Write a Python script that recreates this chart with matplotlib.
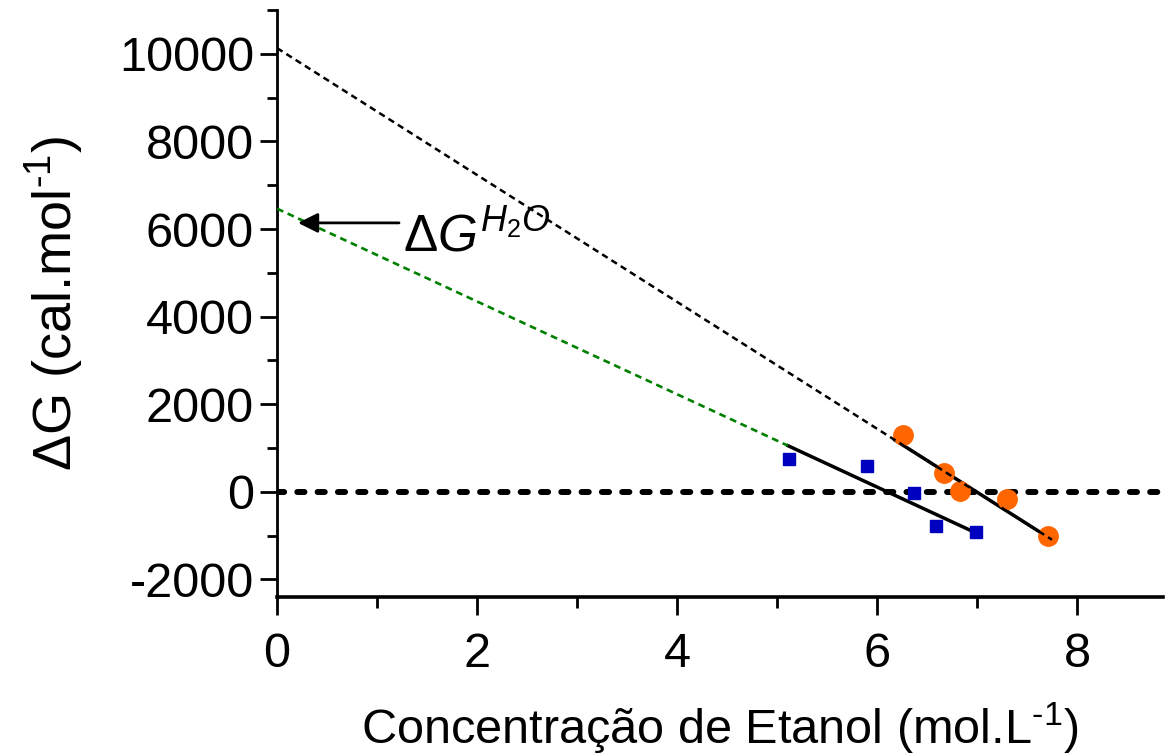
import matplotlib
matplotlib.use("Agg")
import matplotlib.pyplot as plt
from matplotlib.ticker import MultipleLocator, FixedLocator
import numpy as np

# ---- data ----
etanol_orange = [6.26, 6.67, 6.83, 7.30, 7.71]
dg_orange = [1300, 430, 20, -170, -1000]
etanol_blue = [5.12, 5.90, 6.37, 6.59, 6.99]
dg_blue = [760, 580, -30, -770, -910]

# linear fits (intercept, slope) and the x-range of the solid fitted part
orange_intercept, orange_slope = 10130, -1448
orange_fit_range = [6.18, 7.75]
blue_intercept, blue_slope = 6465, -1059
blue_fit_range = [5.11, 6.93]

x_ticks = [0, 2, 4, 6, 8]
y_ticks = [-2000, 0, 2000, 4000, 6000, 8000, 10000]

# ---- fonts ----
plt.rcParams["font.family"] = ["Liberation Sans", "DejaVu Sans"]
plt.rcParams["mathtext.fontset"] = "custom"
plt.rcParams["mathtext.rm"] = "Liberation Sans"
plt.rcParams["mathtext.it"] = "Liberation Sans:italic"
plt.rcParams["axes.unicode_minus"] = False

fig = plt.figure(figsize=(11.66, 7.56), dpi=100)
ax = fig.add_axes([0.2376, 0.2103, 0.7598, 0.7765])

ax.set_xlim(0, 8.86)
ax.set_ylim(-2400, 11000)

# extrapolation (dotted) lines
xo = np.array([0, orange_fit_range[1]])
ax.plot(xo, orange_intercept + orange_slope * xo, color="black", lw=1.8,
        linestyle=(0, (2.6, 1.8)), zorder=5)
xb = np.array([0, blue_fit_range[0]])
ax.plot(xb, blue_intercept + blue_slope * xb, color="#008000", lw=1.9,
        linestyle=(0, (2.6, 1.8)), zorder=5)

# solid fitted parts
xo2 = np.array(orange_fit_range)
ax.plot(xo2, orange_intercept + orange_slope * xo2, color="black", lw=2.5, zorder=2)
xb2 = np.array(blue_fit_range)
ax.plot(xb2, blue_intercept + blue_slope * xb2, color="black", lw=2.5, zorder=2)

# zero line
ax.axhline(0, color="black", lw=4.3, linestyle=(0, (1.2, 2.2)),
           dash_capstyle="round", zorder=1)

# data points
ax.plot(etanol_blue, dg_blue, linestyle="none", marker="s", ms=9,
        color="#0000C0", mec="#0000C0", zorder=3)
ax.plot(etanol_orange, dg_orange, linestyle="none", marker="o", ms=14,
        color="#FF6600", mec="#FF6600", zorder=3)

# annotation arrow + label
ax.annotate("", xy=(0.21, 6140), xytext=(1.22, 6140),
            arrowprops=dict(arrowstyle="-|>", color="black", lw=2,
                            mutation_scale=30, shrinkA=0, shrinkB=0),
            zorder=6)
ax.text(1.26, 5480, r"$\Delta\mathit{G}^{\mathit{H_2O}}$", fontsize=37,
        ha="left", va="baseline", zorder=6)

# spines / ticks
for s in ["top", "right"]:
    ax.spines[s].set_visible(False)
ax.spines["left"].set_linewidth(2.0)
ax.spines["bottom"].set_linewidth(2.6)

ax.xaxis.set_major_locator(FixedLocator(x_ticks))
ax.xaxis.set_minor_locator(MultipleLocator(1))
ax.yaxis.set_major_locator(FixedLocator(y_ticks))
ax.yaxis.set_minor_locator(MultipleLocator(1000))

ax.tick_params(axis="y", which="major", length=12.5, width=2, pad=4, labelsize=35)
ax.tick_params(axis="y", which="minor", length=7, width=2)
ax.tick_params(axis="x", which="major", length=13, width=2, pad=12, labelsize=35)
ax.tick_params(axis="x", which="minor", length=8, width=2)

ax.set_xlabel("Concentração de Etanol (mol.L$^{\\mathregular{\u20101}}$)",
              fontsize=35, labelpad=17)
ax.set_ylabel("$\\Delta$G (cal.mol$^{\\mathregular{\u20101}}$)",
              fontsize=39, labelpad=24)

fig.savefig("out.png", dpi=100)
